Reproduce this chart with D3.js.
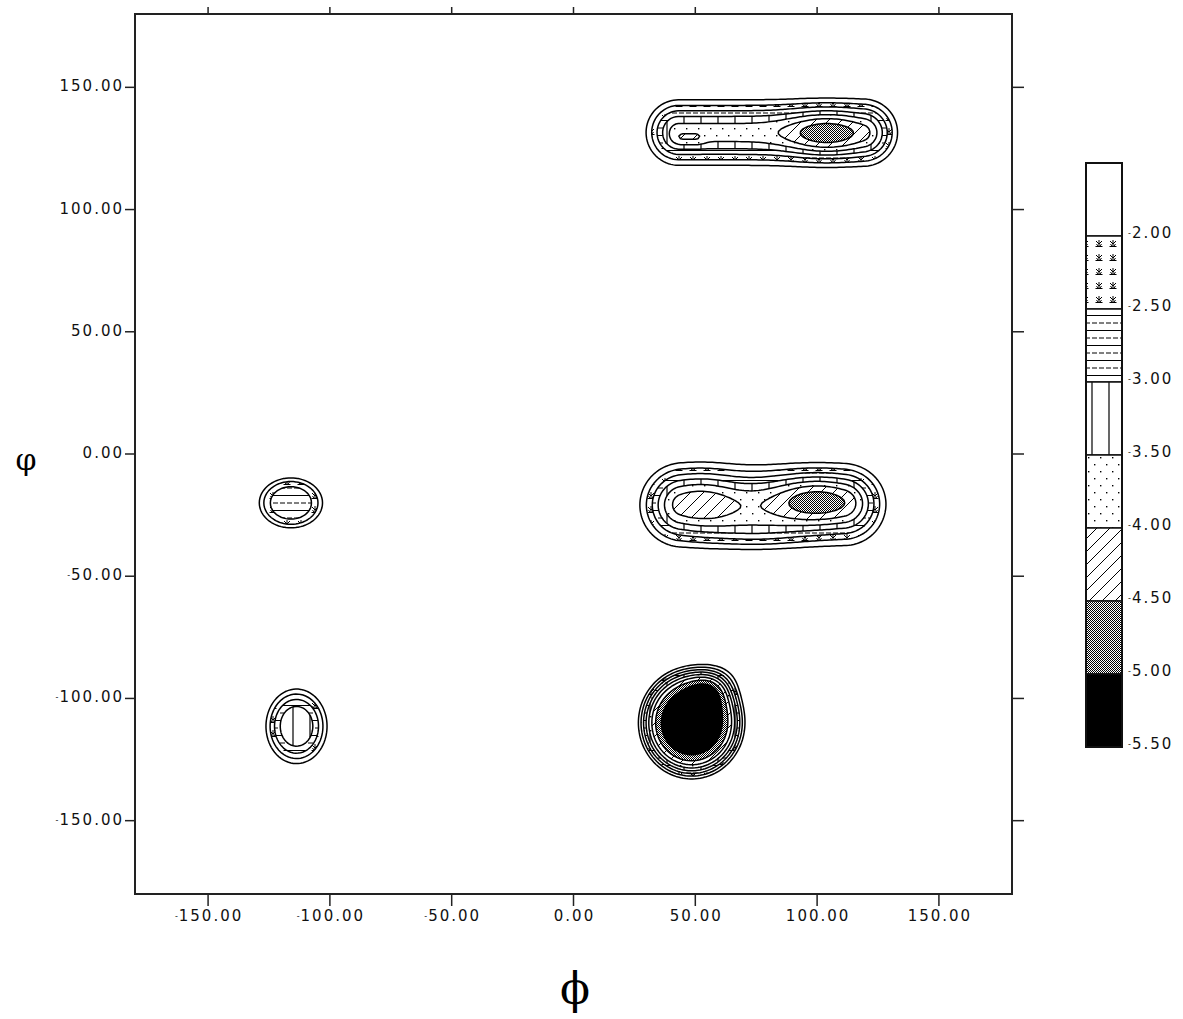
<!DOCTYPE html>
<html>
<head>
<meta charset="utf-8">
<script src="https://cdn.jsdelivr.net/npm/d3@7"></script>
<style>
  body { margin: 0; background: #fff; }
  svg { display: block; }
  .tick-label { font-family: "DejaVu Sans", sans-serif; font-size: 15px; letter-spacing: 2px; fill: #111; }
</style>
</head>
<body>
<svg id="chart" width="1183" height="1019"></svg>
<script>
// wells (phi from..to, psi centre, spreads, depth, flatness)
var wellPhiStart = [43.2, 104, 45, 43.7, 52, 100, 75, -116, -113.7, 48.5, 60];
var wellPhiEnd   = [119.4, 104, 50, 111.5, 52, 100, 75, -116, -113.7, 48.5, 60];
var wellPsi      = [131.5, 131, 129, -21, -19, -18, -33, -20, -111.4, -110, -92];
var wellSpreadPhi = [14, 16, 4, 17, 15, 18, 20, 14.6, 13.4, 20.8, 11];
var wellSpreadPsi = [14, 10, 3, 17, 15, 11, 7, 11.5, 16.3, 21.8, 9];
var wellDepth    = [3.75, 1.2, 0.4, 3.7, 0.75, 1.25, 0.6, 2.8, 3.4, 5.4, 1.3];
var wellPower    = [1, 1, 1, 1, 1, 1, 1, 2, 1.5, 2.5, 1];

var lineLevels = [-1.5, -2.0, -2.5, -3.0, -3.5, -4.0, -4.5, -5.0, -5.5];
var bandLevels = [-2.0, -2.5, -3.0, -3.5, -4.0, -4.5, -5.0];
var bandFills  = ['ast', 'hdash', 'vline', 'dots', 'diag', 'stip', 'black'];
var legendLevels = [-2.0, -2.5, -3.0, -3.5, -4.0, -4.5, -5.0, -5.5];
var legendFills  = ['white', 'ast', 'hdash', 'vline', 'dots', 'diag', 'stip', 'black'];
var axisTicks = [-150, -100, -50, 0, 50, 100, 150];

var svg = d3.select('#chart');
var x = d3.scaleLinear().domain([-180, 180]).range([135, 1012]);
var y = d3.scaleLinear().domain([-180, 180]).range([894, 14]);

// patterns
var defs = svg.append('defs');
var makePattern = function (id, w, h, draw) {
	var p = defs.append('pattern').attr('id', id)
		.attr('patternUnits', 'userSpaceOnUse').attr('width', w).attr('height', h);
	p.append('rect').attr('width', w).attr('height', h).attr('fill', '#fff');
	draw(p);
};
makePattern('ast', 14, 14, function (p) {
	p.append('path').attr('d', 'M7 2V8M4 3L7 6L10 3M3.5 8.5H10.5M4.5 6L6 8M9.5 6L8 8')
		.attr('stroke', '#000').attr('stroke-width', 1).attr('fill', 'none');
});
makePattern('hdash', 7, 15, function (p) {
	p.append('path').attr('d', 'M0 0.5H7M0 8H5').attr('stroke', '#000').attr('stroke-width', 1);
});
makePattern('vline', 17, 10, function (p) {
	p.append('path').attr('d', 'M4 0V10').attr('stroke', '#000').attr('stroke-width', 1.2);
});
makePattern('dots', 12, 14, function (p) {
	p.append('rect').attr('x', 2).attr('y', 2).attr('width', 1.4).attr('height', 1.4).attr('fill', '#000');
	p.append('rect').attr('x', 8).attr('y', 9).attr('width', 1.4).attr('height', 1.4).attr('fill', '#000');
});
makePattern('diag', 13, 13, function (p) {
	p.append('path').attr('d', 'M-1 14L14 -1M-7 7L7 -7M6 20L20 6')
		.attr('stroke', '#000').attr('stroke-width', 1);
});
makePattern('stip', 2, 2, function (p) {
	p.append('rect').attr('width', 1).attr('height', 1).attr('fill', '#000');
	p.append('rect').attr('x', 1).attr('y', 1).attr('width', 1).attr('height', 1).attr('fill', '#000');
});
var fillFor = function (k) {
	if (k === 'white') return '#fff';
	if (k === 'black') return '#000';
	return 'url(#' + k + ')';
};

// energy grid, 1 degree steps
var n = 361;
var values = new Array(n * n);
for (var j = 0; j < n; j++) {
	var psi = -180 + j;
	for (var i = 0; i < n; i++) {
		var phi = -180 + i;
		var e = 0;
		for (var w = 0; w < wellDepth.length; w++) {
			var dp = Math.max(0, wellPhiStart[w] - phi, phi - wellPhiEnd[w]) / wellSpreadPhi[w];
			var dq = (psi - wellPsi[w]) / wellSpreadPsi[w];
			var r2 = dp * dp + dq * dq;
			e += wellDepth[w] * Math.exp(-Math.pow(r2, wellPower[w]));
		}
		values[j * n + i] = e; // depth (= -energy)
	}
}

var gridPath = d3.geoPath(d3.geoTransform({
	point: function (gx, gy) {
		this.stream.point(x(-180 + gx - 0.5), y(-180 + gy - 0.5));
	}
}));

svg.append('clipPath').attr('id', 'plotclip').append('rect')
	.attr('x', 135).attr('y', 14).attr('width', 877).attr('height', 880);

var plot = svg.append('g').attr('clip-path', 'url(#plotclip)');

var bands = d3.contours().size([n, n]).thresholds(bandLevels.map(function (v) { return -v; }))(values);
plot.selectAll('path.band')
		.data(bands)
	.enter()
		.append('path')
		.attr('class', 'band')
		.attr('d', gridPath)
		.attr('fill', function (d, k) { return fillFor(bandFills[k]); })
		.attr('stroke', 'none');

var lines = d3.contours().size([n, n]).thresholds(lineLevels.map(function (v) { return -v; }))(values);
plot.selectAll('path.iso')
		.data(lines)
	.enter()
		.append('path')
		.attr('class', 'iso')
		.attr('d', gridPath)
		.attr('fill', 'none')
		.attr('stroke', '#000')
		.attr('stroke-width', 1.5);

// frame and ticks
svg.append('rect').attr('x', 135).attr('y', 14).attr('width', 877).attr('height', 880)
	.attr('fill', 'none').attr('stroke', '#222').attr('stroke-width', 2);

var ticks = svg.append('g').attr('stroke', '#222').attr('stroke-width', 1.5);
axisTicks.forEach(function (t) {
	ticks.append('line').attr('x1', x(t)).attr('x2', x(t)).attr('y1', 894).attr('y2', 906);
	ticks.append('line').attr('x1', x(t)).attr('x2', x(t)).attr('y1', 14).attr('y2', 7);
	ticks.append('line').attr('y1', y(t)).attr('y2', y(t)).attr('x1', 135).attr('x2', 125);
	ticks.append('line').attr('y1', y(t)).attr('y2', y(t)).attr('x1', 1012).attr('x2', 1024);
});

var addLabel = function (g, v, px, py, anchor) {
	var s = v.toFixed(2);
	var t = g.append('text').attr('class', 'tick-label')
		.attr('x', px).attr('y', py).attr('text-anchor', anchor);
	if (s.charAt(0) === '-') {
		t.append('tspan').attr('font-size', '8px').attr('letter-spacing', '1px').attr('dy', -2).text('-');
		t.append('tspan').attr('dy', 2).text(s.slice(1));
	} else {
		t.text(s);
	}
};
var labels = svg.append('g');
axisTicks.forEach(function (t) {
	addLabel(labels, t, x(t) + 1, 921, 'middle');
	addLabel(labels, t, 124, y(t) + 4, 'end');
});

svg.append('text').attr('x', 26).attr('y', 470).attr('text-anchor', 'middle')
	.attr('font-family', 'DejaVu Serif, serif').attr('font-size', 30).text('φ');
svg.append('text').attr('x', 575).attr('y', 1004).attr('text-anchor', 'middle')
	.attr('font-family', 'DejaVu Serif, serif').attr('font-size', 44).text('ϕ');

// legend
var ly = d3.scaleLinear().domain([-1.5, -5.5]).range([163, 747]);
var legend = svg.append('g');
legendLevels.forEach(function (v, k) {
	var top = ly(v + 0.5), bot = ly(v);
	legend.append('rect').attr('x', 1086).attr('y', top).attr('width', 36).attr('height', bot - top)
		.attr('fill', fillFor(legendFills[k])).attr('stroke', '#111').attr('stroke-width', 1.5);
	addLabel(legend, v, 1128, bot + 2, 'start');
});
legend.append('rect').attr('x', 1086).attr('y', 163).attr('width', 36).attr('height', 584)
	.attr('fill', 'none').attr('stroke', '#111').attr('stroke-width', 2);
</script>
</body>
</html>
